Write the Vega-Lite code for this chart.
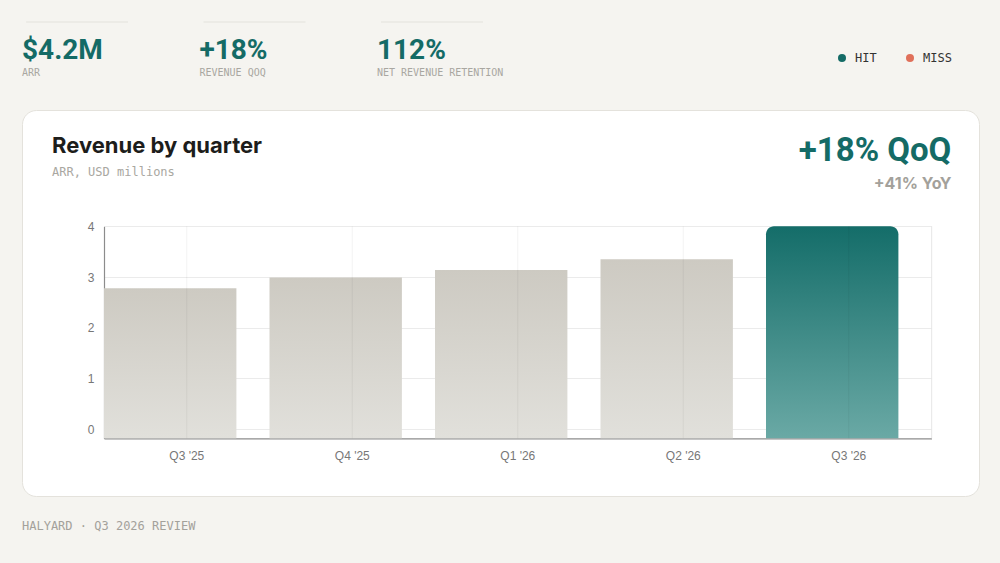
{
  "$schema": "https://vega.github.io/schema/vega-lite/v6.json",
  "background": "#f5f4f0",
  "padding": {"left": 21, "top": 21, "right": 21, "bottom": 32},
  "spacing": 18,
  "resolve": {"scale": {"color": "independent"}, "legend": {"color": "independent"}},
  "title": {
    "text": "HALYARD · Q3 2026 REVIEW",
    "orient": "bottom",
    "anchor": "start",
    "frame": "group",
    "offset": 24,
    "font": "DejaVu Sans Mono",
    "fontSize": 12,
    "fontWeight": "normal",
    "color": "#a3a19b"
  },
  "datasets": {
    "kpis": [
      {"kpi": "ARR", "value": "$4.2M", "status": "HIT"},
      {"kpi": "REVENUE QOQ", "value": "+18%", "status": "HIT"},
      {"kpi": "NET REVENUE RETENTION", "value": "112%", "status": "HIT"}
    ],
    "revenue": [
      {"quarter": "Q3 '25", "arr": 2.78, "current": false},
      {"quarter": "Q4 '25", "arr": 2.99, "current": false},
      {"quarter": "Q1 '26", "arr": 3.14, "current": false},
      {"quarter": "Q2 '26", "arr": 3.35, "current": false},
      {"quarter": "Q3 '26", "arr": 4.0, "current": true}
    ],
    "growth": [
      {"metric": "QoQ", "label": "+18% QoQ"},
      {"metric": "YoY", "label": "+41% YoY"}
    ]
  },
  "vconcat": [
    {
      "width": 957,
      "height": 69,
      "view": {"stroke": null},
      "data": {"name": "kpis"},
      "layer": [
        {
          "mark": {"type": "tick", "orient": "horizontal", "size": 102, "thickness": 1, "color": "#dedcd6"},
          "encoding": {
            "x": {
              "field": "kpi",
              "type": "nominal",
              "sort": null,
              "scale": {"domain": ["ARR", "REVENUE QOQ", "NET REVENUE RETENTION"], "range": [0, 465], "paddingInner": 0.38, "paddingOuter": 0, "align": 0},
              "axis": null
            },
            "y": {"datum": 1, "type": "quantitative", "scale": {"domain": [0, 1]}, "axis": null}
          }
        },
        {
          "mark": {"type": "text", "align": "left", "baseline": "alphabetic", "font": "Roboto", "fontSize": 28, "fontWeight": 700},
          "encoding": {
            "x": {"field": "kpi", "type": "nominal", "sort": null, "bandPosition": 0, "axis": null},
            "y": {"datum": 0.459, "type": "quantitative", "axis": null},
            "text": {"field": "value"},
            "color": {
              "field": "status",
              "type": "nominal",
              "scale": {"domain": ["HIT", "MISS"], "range": ["#146b66", "#e0705a"]},
              "legend": {
                "title": null,
                "orient": "bottom-right",
                "direction": "horizontal",
                "offset": 27,
                "padding": 0,
                "symbolType": "circle",
                "symbolSize": 64,
                "symbolStrokeWidth": 0,
                "labelFont": "DejaVu Sans Mono",
                "labelFontSize": 12,
                "labelColor": "#333333",
                "labelOffset": 7,
                "columnPadding": 27
              }
            }
          }
        },
        {
          "mark": {"type": "text", "align": "left", "baseline": "alphabetic", "font": "DejaVu Sans Mono", "fontSize": 10, "color": "#a9a7a1"},
          "encoding": {
            "x": {"field": "kpi", "type": "nominal", "sort": null, "bandPosition": 0, "axis": null},
            "y": {"datum": 0.217, "type": "quantitative", "axis": null},
            "text": {"field": "kpi"}
          }
        }
      ]
    },
    {
      "width": 957,
      "height": 386,
      "view": {"fill": "#ffffff", "stroke": "#e4e2dc", "cornerRadius": 14},
      "title": {
        "text": "Revenue by quarter",
        "subtitle": "ARR, USD millions",
        "anchor": "start",
        "frame": "group",
        "orient": "top",
        "offset": -69,
        "dx": 30,
        "font": "Inter",
        "fontSize": 22,
        "fontWeight": 700,
        "color": "#1d1d1b",
        "subtitleFont": "DejaVu Sans Mono",
        "subtitleFontSize": 12,
        "subtitleColor": "#a9a7a1",
        "subtitlePadding": 9.5
      },
      "layer": [
        {
          "data": {"name": "revenue"},
          "encoding": {
            "x": {
              "field": "quarter",
              "type": "nominal",
              "sort": null,
              "scale": {"domain": ["Q3 '25", "Q4 '25", "Q1 '26", "Q2 '26", "Q3 '26"], "range": [82, 909.5], "paddingInner": 0.2, "paddingOuter": 0.1, "align": 0},
              "axis": {
                "title": null,
                "orient": "bottom",
                "offset": -57.7,
                "labelOffset": 16.6,
                "labelAngle": 0,
                "labelPadding": 12,
                "grid": false,
                "ticks": false,
                "domainColor": "#8c8c8c",
                "domainWidth": 1.2
              }
            },
            "y": {
              "field": "arr",
              "type": "quantitative",
              "scale": {"domain": [-0.18, 4], "range": [328.3, 116.3], "nice": false, "zero": false},
              "axis": {
                "title": null,
                "orient": "left",
                "offset": -82,
                "values": [0, 1, 2, 3, 4],
                "format": "d",
                "labelPadding": 10,
                "grid": true,
                "ticks": false,
                "domainColor": "#8c8c8c",
                "domainWidth": 1.2
              }
            }
          },
          "layer": [
            {
              "transform": [{"filter": "!datum.current"}],
              "mark": {
                "type": "bar",
                "color": {"gradient": "linear", "x1": 0, "y1": 0, "x2": 0, "y2": 1, "stops": [{"offset": 0, "color": "#cdcac2"}, {"offset": 1, "color": "#e1e0db"}]}
              },
              "encoding": {"y2": {"datum": -0.18}}
            },
            {
              "transform": [{"filter": "datum.current"}],
              "mark": {
                "type": "bar",
                "cornerRadiusTopLeft": 8,
                "cornerRadiusTopRight": 8,
                "color": {"gradient": "linear", "x1": 0, "y1": 0, "x2": 0, "y2": 1, "stops": [{"offset": 0, "color": "#146d69"}, {"offset": 1, "color": "#6aa9a5"}]}
              },
              "encoding": {"y2": {"datum": -0.18}}
            },
            {
              "mark": {"type": "rule", "color": "#000000", "opacity": 0.05, "strokeWidth": 1},
              "encoding": {
                "x": {"field": "quarter", "type": "nominal", "sort": null, "bandPosition": 0.625},
                "y": {"datum": 4, "type": "quantitative"},
                "y2": {"datum": -0.18}
              }
            },
            {
              "transform": [{"filter": "datum.current"}],
              "mark": {"type": "rule", "color": "#e6e6e6", "strokeWidth": 1},
              "encoding": {
                "x": {"field": "quarter", "type": "nominal", "sort": null, "bandPosition": 1.2515},
                "y": {"datum": 4, "type": "quantitative"},
                "y2": {"datum": -0.18}
              }
            }
          ]
        },
        {
          "data": {"name": "growth"},
          "transform": [{"filter": "datum.metric == 'QoQ'"}],
          "mark": {"type": "text", "align": "right", "baseline": "alphabetic", "font": "Roboto", "fontSize": 33, "fontWeight": 700, "color": "#146b66"},
          "encoding": {
            "x": {"datum": "Q3 '26", "type": "nominal", "bandPosition": 1.4},
            "y": {"datum": 5.293, "type": "quantitative"},
            "text": {"field": "label"}
          }
        },
        {
          "data": {"name": "growth"},
          "transform": [{"filter": "datum.metric == 'YoY'"}],
          "mark": {"type": "text", "align": "right", "baseline": "alphabetic", "font": "Inter", "fontSize": 16, "fontWeight": 700, "color": "#a3a19b"},
          "encoding": {
            "x": {"datum": "Q3 '26", "type": "nominal", "bandPosition": 1.4},
            "y": {"datum": 4.735, "type": "quantitative"},
            "text": {"field": "label"}
          }
        }
      ]
    }
  ],
  "config": {
    "font": "Inter",
    "axis": {
      "labelFont": "Liberation Sans",
      "labelFontSize": 12,
      "labelColor": "#777777",
      "gridColor": "#000000",
      "gridOpacity": 0.08,
      "zindex": 1
    }
  }
}
